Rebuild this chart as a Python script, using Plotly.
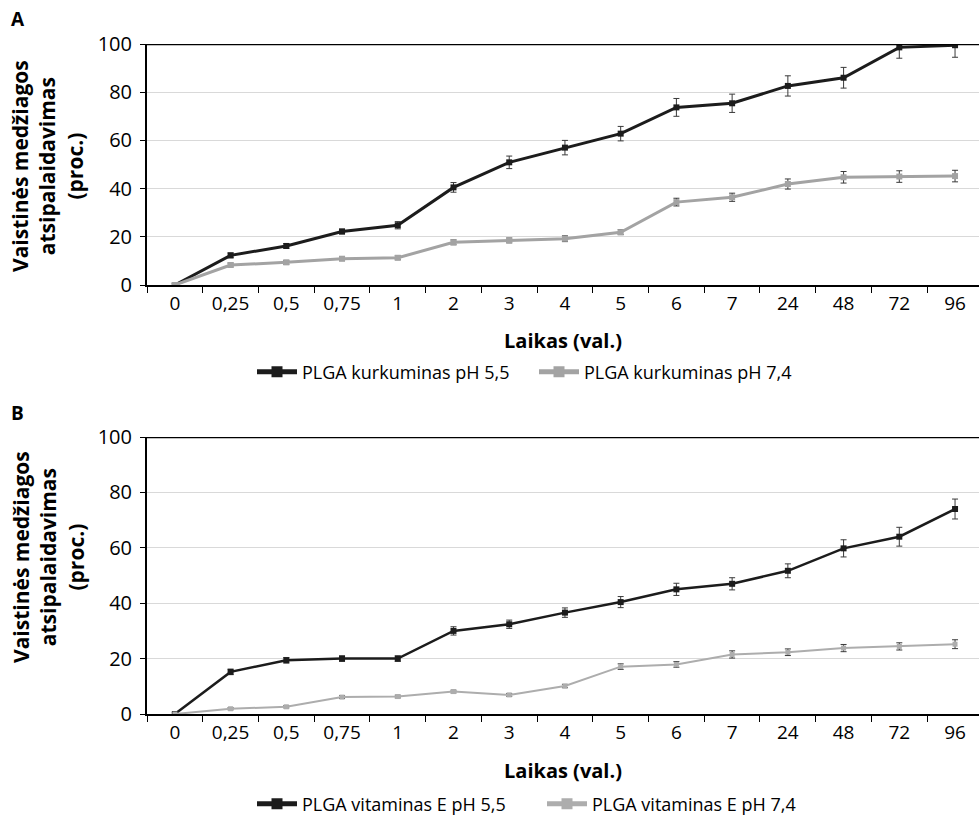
import plotly.graph_objects as go

time_labels = ["0", "0,25", "0,5", "0,75", "1", "2", "3", "4", "5", "6", "7", "24", "48", "72", "96"]

# Panel A – curcumin
a_ph55 = [0, 12.3, 16.2, 22.2, 24.8, 40.5, 50.9, 57.0, 62.8, 73.7, 75.4, 82.6, 86.0, 98.6, 99.5]
a_ph55_err = [0.5, 1.0, 1.0, 1.0, 1.5, 2.0, 2.6, 3.0, 3.0, 3.7, 3.8, 4.2, 4.3, 4.5, 5.0]
a_ph74 = [0, 8.3, 9.4, 10.9, 11.3, 17.7, 18.5, 19.2, 21.9, 34.4, 36.4, 41.9, 44.7, 45.0, 45.2]
a_ph74_err = [0.5, 0.8, 0.8, 0.8, 0.8, 1.0, 1.0, 1.2, 1.0, 1.6, 1.7, 2.1, 2.4, 2.4, 2.4]

# Panel B – vitamin E
b_ph55 = [0, 15.2, 19.4, 20.0, 20.0, 30.0, 32.4, 36.6, 40.4, 45.0, 47.0, 51.7, 59.8, 64.0, 74.0]
b_ph55_err = [0.5, 1.0, 1.0, 1.0, 1.0, 1.5, 1.5, 1.7, 2.0, 2.2, 2.2, 2.5, 3.1, 3.4, 3.6]
b_ph74 = [0, 1.9, 2.6, 6.1, 6.3, 8.1, 6.9, 10.1, 17.1, 17.9, 21.5, 22.3, 23.8, 24.4, 25.2]
b_ph74_err = [0.3, 0.4, 0.4, 0.5, 0.5, 0.5, 0.5, 0.6, 1.0, 1.0, 1.3, 1.2, 1.3, 1.3, 1.6]

names_a = ["PLGA kurkuminas pH 5,5", "PLGA kurkuminas pH 7,4"]
names_b = ["PLGA vitaminas E pH 5,5", "PLGA vitaminas E pH 7,4"]
y_title = "Vaistinės medžiagos<br>atsipalaidavimas<br>(proc.)"
x_title = "Laikas (val.)"

FONT = "Open Sans"
DARK = "#1c1c1c"
GREY_A = "#a3a3a3"
GREY_B = "#adadad"
ERR = "#3a3a3a"

W, H = 979, 815

def py(px):
    return 1 - px / H

fig = go.Figure()

def add(y, err, name, color, lw, ms, xa, ya, legend):
    fig.add_trace(go.Scatter(
        x=time_labels, y=y, name=name, mode="lines+markers",
        line=dict(color=color, width=lw),
        marker=dict(symbol="square", size=ms, color=color),
        error_y=dict(type="data", array=err, visible=True, color=ERR, thickness=1, width=3),
        xaxis=xa, yaxis=ya, showlegend=False,
    ))
    # legend entry drawn with a heavier symbol, as in the reference
    fig.add_trace(go.Scatter(
        x=[None], y=[None], name=name, mode="lines+markers",
        line=dict(color=color, width=5),
        marker=dict(symbol="square", size=11, color=color),
        xaxis=xa, yaxis=ya, legend=legend, hoverinfo="skip",
    ))

add(a_ph55, a_ph55_err, names_a[0], DARK, 3, 6, "x", "y", "legend")
add(a_ph74, a_ph74_err, names_a[1], GREY_A, 3, 6, "x", "y", "legend")
add(b_ph55, b_ph55_err, names_b[0], DARK, 2.5, 6, "x2", "y2", "legend2")
add(b_ph74, b_ph74_err, names_b[1], GREY_B, 2, 5, "x2", "y2", "legend2")

x_dom = [147 / W, 1.0]
xaxis_common = dict(
    type="category", categoryorder="array", categoryarray=time_labels,
    range=[-0.5, 14.43],
    showline=True, linecolor="black", linewidth=2,
    ticks="outside", tickson="boundaries", ticklen=6, tickcolor="black", tickwidth=1,
    tickfont=dict(family=FONT, size=19, color="black"),
    showgrid=False, zeroline=False, domain=x_dom, automargin=False,
)
yaxis_common = dict(
    range=[0, 100], tickvals=[0, 20, 40, 60, 80, 100],
    showline=True, linecolor="black", linewidth=2,
    ticks="outside", ticklen=5, tickcolor="black", tickwidth=1,
    tickfont=dict(family=FONT, size=20, color="black"), ticklabelstandoff=4,
    showgrid=True, gridcolor="#d9d9d9", gridwidth=1, zeroline=False, automargin=False,
)

legend_common = dict(orientation="h", xanchor="left", yanchor="middle",
                     font=dict(family=FONT, size=18, color="black"), itemwidth=40,
                     bgcolor="rgba(0,0,0,0)")

fig.update_layout(
    width=W, height=H,
    margin=dict(l=0, r=0, t=0, b=0, autoexpand=False),
    paper_bgcolor="white", plot_bgcolor="white",
    font=dict(family=FONT, color="black"),
    xaxis=dict(**xaxis_common, anchor="y"),
    yaxis=dict(**yaxis_common, domain=[py(285), py(44)], anchor="x"),
    xaxis2=dict(**xaxis_common, anchor="y2"),
    yaxis2=dict(**yaxis_common, domain=[py(714), py(437)], anchor="x2"),
    legend=dict(**legend_common, x=252 / W, y=py(372), entrywidth=227),
    legend2=dict(**legend_common, x=252 / W, y=py(804), entrywidth=235),
    showlegend=True,
)

for xr, ya in [("x domain", "y"), ("x2 domain", "y2")]:
    fig.add_shape(type="line", xref=xr, yref=ya,
                  x0=0, x1=1, y0=100, y1=100, line=dict(color="black", width=2.5), layer="above")

annots = [
    dict(text="<b>A</b>", x=9 / W, y=py(19), xanchor="left", yanchor="middle", font=dict(size=19)),
    dict(text="<b>B</b>", x=9 / W, y=py(413), xanchor="left", yanchor="middle", font=dict(size=19)),
    dict(text="<b>" + y_title + "</b>", x=48 / W, y=py(166), textangle=-90,
         xanchor="center", yanchor="middle", font=dict(size=21)),
    dict(text="<b>" + y_title + "</b>", x=48 / W, y=py(557), textangle=-90,
         xanchor="center", yanchor="middle", font=dict(size=21)),
    dict(text="<b>" + x_title + "</b>", x=563 / W, y=py(340), xanchor="center", yanchor="middle",
         font=dict(size=20)),
    dict(text="<b>" + x_title + "</b>", x=563 / W, y=py(770), xanchor="center", yanchor="middle",
         font=dict(size=20)),
]
for a in annots:
    a.update(xref="paper", yref="paper", showarrow=False)
    a["font"].update(family=FONT, color="black")
    fig.add_annotation(**a)

fig.write_html("out.html")
